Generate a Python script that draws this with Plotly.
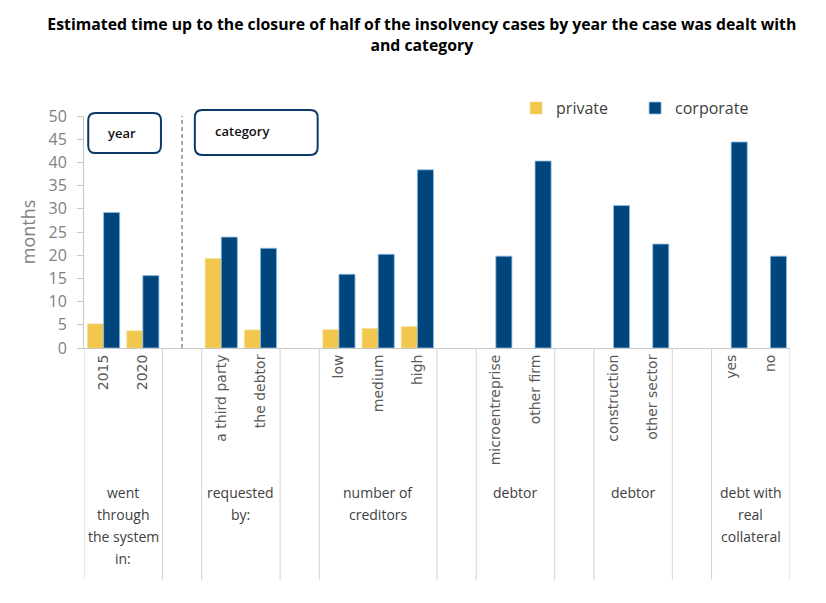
import plotly.graph_objects as go

# slots on the x axis, blank strings keep the gaps between the groups
categories = ["2015", "2020", " ",
              "a third party", "the debtor", "  ",
              "low", "medium", "high", "   ",
              "microentreprise", "other firm", "    ",
              "construction", "other sector", "     ",
              "yes", "no"]
private = [5.2, 3.7, None,
           19.3, 3.9, None,
           3.95, 4.2, 4.6, None,
           None, None, None,
           None, None, None,
           None, None]
corporate = [29.2, 15.6, None,
             23.9, 21.5, None,
             15.9, 20.2, 38.4, None,
             19.8, 40.3, None,
             30.7, 22.4, None,
             44.4, 19.8]
group_labels = [["went", "through", "the system", "in:"],
                ["requested", "by:"],
                ["number of", "creditors"],
                ["debtor"],
                ["debtor"],
                ["debt with", "real", "collateral"]]
group_spans = [(0, 1), (3, 4), (6, 8), (10, 11), (13, 14), (16, 17)]

YELLOW = "#F2C74E"
BLUE = "#00457C"
GREY = "#595959"
FONT = "Open Sans"

fig = go.Figure()
fig.add_trace(go.Bar(x=categories, y=private, name="private",
                     marker=dict(color=YELLOW, line=dict(color="#f7dc8c", width=0.6))))
fig.add_trace(go.Bar(x=categories, y=corporate, name="corporate",
                     marker=dict(color=BLUE, line=dict(color="#8fbfe6", width=0.8))))

shapes = []
# separators under the axis
for a, b in group_spans:
    for xv in (a - 0.5, b + 0.5):
        shapes.append(dict(type="line", xref="x", yref="paper", x0=xv, x1=xv,
                           y0=0, y1=-1.0, line=dict(color="#d4d4d4", width=1)))
# dashed divider between year and category
shapes.append(dict(type="line", xref="x", yref="y", x0=2, x1=2, y0=0, y1=50,
                   line=dict(color="#5a7590", width=1.2, dash="4px,3px")))


def rounded_box(x0, x1, y0, y1, rx=0.0105, ry=0.032):
    p = (f"M {x0 + rx},{y0} L {x1 - rx},{y0} Q {x1},{y0} {x1},{y0 + ry} "
         f"L {x1},{y1 - ry} Q {x1},{y1} {x1 - rx},{y1} "
         f"L {x0 + rx},{y1} Q {x0},{y1} {x0},{y1 - ry} "
         f"L {x0},{y0 + ry} Q {x0},{y0} {x0 + rx},{y0} Z")
    return dict(type="path", xref="paper", yref="paper", path=p,
                line=dict(color="#0b3a66", width=2), fillcolor="white")


shapes.append(rounded_box(0.006, 0.109, 0.840, 1.013))
shapes.append(rounded_box(0.157, 0.331, 0.832, 1.026))

annotations = []
for (a, b), lines in zip(group_spans, group_labels):
    for i, line in enumerate(lines):
        annotations.append(dict(x=(a + b) / 2, y=-0.621 - i * 0.0948,
                                xref="x", yref="paper", text=line,
                                showarrow=False, yanchor="middle",
                                font=dict(family=FONT, size=14, color="#404040")))
annotations.append(dict(x=0.031, y=0.927, xref="paper", yref="paper", text="year",
                        showarrow=False, xanchor="left", yanchor="middle",
                        font=dict(family=FONT, size=13, color="#111111", weight=600)))
annotations.append(dict(x=0.183, y=0.935, xref="paper", yref="paper", text="category",
                        showarrow=False, xanchor="left", yanchor="middle",
                        font=dict(family=FONT, size=13, color="#111111", weight=600)))

# the page sits 8px in from the window's top-left corner
fig.update_layout(
    width=826, height=603,
    margin=dict(l=76, r=44, t=108, b=263, autoexpand=False),
    paper_bgcolor="white", plot_bgcolor="white",
    title=dict(text="<b>Estimated time up to the closure of half of the insolvency cases by year the case was dealt with<br>and category</b>",
               x=0.501, xanchor="center", y=0.963, yanchor="top",
               font=dict(family=FONT, size=15.8, color="black")),
    barmode="group", bargap=0.18, bargroupgap=0,
    legend=dict(orientation="h", x=0.612, xanchor="left", y=1.034, yanchor="middle",
                entrywidth=74, entrywidthmode="pixels",
                font=dict(family=FONT, size=16, color="#404040"),
                bgcolor="rgba(0,0,0,0)"),
    shapes=shapes, annotations=annotations,
    showlegend=True,
)
fig.update_xaxes(type="category", categoryorder="array", categoryarray=categories,
                 tickangle=-90, showline=True, linecolor="#c8c8c8", linewidth=1,
                 ticks="", showgrid=False, range=[-0.5, 17.5],
                 tickfont=dict(family="DejaVu Sans", size=14, color=GREY))
fig.update_yaxes(range=[0, 50], dtick=5, showline=True, linecolor="#c8c8c8",
                 linewidth=1, ticks="outside", ticklen=6, tickcolor="#c8c8c8",
                 ticklabelstandoff=7,
                 showgrid=False, zeroline=False,
                 tickfont=dict(family=FONT, size=16, color="#7f7f7f"),
                 title=dict(text="months", standoff=8,
                            font=dict(family=FONT, size=18, color="#7f7f7f")))

fig.write_html("out.html")
